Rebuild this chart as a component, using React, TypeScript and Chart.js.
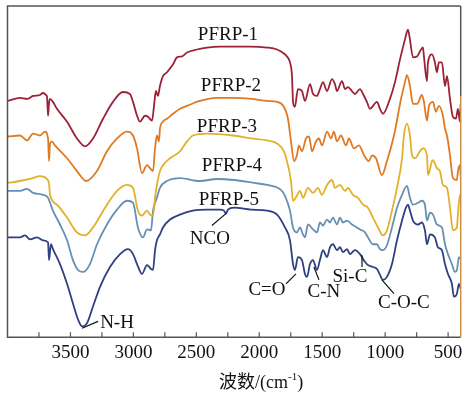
import { useEffect, useRef } from "react";
import { Chart, registerables } from "chart.js";

Chart.register(...registerables);

// FTIR spectra (wavenumber in cm-1, transmittance in arbitrary offset units)
const WN_1 = [3996,3901,3845,3797,3742,3718,3694,3686,3678,3670,3662,3639,3607,3527,3448,3384,3321,3241,3162,3083,3027,3003,2971,2948,2908,2884,2852,2836,2821,2805,2789,2765,2733,2685,2654,2614,2574,2495,2415,2312,2201,2066,1939,1859,1804,1780,1756,1740,1732,1717,1693,1661,1637,1597,1573,1542,1518,1494,1462,1422,1399,1383,1343,1319,1296,1264,1240,1200,1176,1145,1121,1065,1041,1018,962,922,882,843,819,803,779,747,724,700,692,668,660,628,605,589,573,549,525,509,485,462,438,422,406,400];
const T_1 = [239,242,241,244,245,247,245,243,224,237,241,238,231,218,201,193,201,221,238,248,246,238,224,218,224,223,219,234,249,244,254,264,268,276,283,284,288,291,293,294,294,294,293,291,287,284,278,264,238,233,251,249,239,256,246,244,251,258,249,261,256,249,259,251,253,249,246,251,246,238,231,238,231,226,241,258,281,301,311,301,283,284,289,293,284,259,278,286,278,268,278,278,254,264,241,223,221,231,218,236];

const WN_2 = [3996,3901,3845,3797,3742,3702,3678,3670,3662,3647,3623,3527,3448,3376,3289,3210,3130,3051,3003,2971,2932,2892,2868,2844,2828,2813,2797,2789,2765,2733,2685,2630,2574,2471,2336,2201,2066,1939,1859,1804,1772,1748,1724,1701,1685,1661,1629,1605,1581,1550,1526,1502,1462,1430,1407,1383,1351,1311,1288,1248,1208,1168,1129,1105,1073,1026,986,930,874,843,827,803,779,747,708,692,668,652,620,597,573,541,525,509,485,462,430,422,406,400];
const T_2 = [203,204,199,206,204,208,201,178,196,198,194,181,168,158,168,188,201,208,204,191,166,174,171,168,191,204,198,211,218,221,226,231,234,239,242,242,241,239,238,233,221,198,178,184,194,188,201,203,188,198,201,194,208,201,208,198,204,194,201,191,194,184,178,184,181,164,178,204,241,258,265,254,236,236,245,238,219,234,238,228,234,224,211,204,184,161,159,168,174,163];

const WN_3 = [3996,3901,3797,3742,3686,3670,3662,3607,3527,3448,3384,3321,3210,3130,3051,3003,2964,2932,2892,2868,2844,2828,2813,2789,2765,2709,2630,2574,2527,2415,2209,2066,1939,1859,1804,1780,1748,1732,1701,1677,1653,1613,1573,1534,1502,1462,1422,1399,1359,1319,1296,1256,1216,1176,1137,1097,1057,1018,986,946,906,866,851,827,803,787,763,724,700,668,660,628,620,589,565,541,509,485,462,430,422,406,400];
const T_3 = [156,158,161,163,160,155,144,134,121,106,103,111,134,148,154,151,128,123,128,124,123,141,154,168,174,181,188,198,204,206,204,201,199,196,188,178,158,138,143,148,141,151,146,151,144,154,159,151,154,148,151,144,141,134,131,121,111,103,108,128,151,181,204,216,204,184,181,188,191,184,164,178,179,171,168,154,151,131,108,111,124,144,140];

const WN_4 = [3996,3901,3845,3797,3718,3678,3662,3639,3583,3527,3480,3440,3400,3345,3289,3210,3130,3051,3003,2964,2924,2892,2860,2844,2813,2789,2733,2630,2471,2336,2201,2042,1939,1828,1796,1756,1732,1701,1677,1653,1637,1613,1573,1542,1518,1494,1462,1438,1415,1383,1359,1335,1303,1264,1224,1200,1160,1137,1097,1065,1041,1018,986,946,906,866,827,803,779,739,708,684,668,644,620,589,549,525,501,470,446,430,414,400];
const T_4 = [148,148,150,146,144,141,136,128,114,98,78,68,66,74,94,114,129,138,136,111,101,109,108,128,141,151,158,161,158,160,159,156,154,149,143,128,111,106,111,104,101,114,109,106,116,113,119,116,121,114,121,116,118,114,111,109,106,101,94,94,89,88,93,111,131,144,153,141,134,136,138,134,118,126,124,114,111,94,84,74,66,68,81,79];

const WN_5 = [3996,3901,3861,3821,3766,3718,3678,3670,3655,3639,3583,3527,3480,3440,3408,3369,3321,3265,3186,3106,3043,3003,2971,2932,2892,2860,2844,2828,2813,2789,2765,2709,2630,2527,2415,2312,2281,2265,2249,2201,2066,1939,1859,1796,1756,1732,1717,1693,1661,1637,1621,1597,1573,1542,1518,1494,1462,1438,1415,1383,1359,1335,1303,1280,1240,1200,1160,1137,1097,1065,1041,1018,986,946,906,866,835,819,803,779,739,708,684,668,644,605,581,549,525,501,470,454,430,414,400];
const T_5 = [101,101,103,99,101,98,96,78,94,89,74,54,34,18,11,14,31,51,71,84,89,84,74,64,73,69,68,88,98,104,111,119,124,128,129,129,128,125,129,131,129,128,124,111,98,74,68,81,78,64,61,74,78,68,78,88,81,91,94,88,91,86,89,84,88,84,76,73,71,69,63,58,61,74,98,118,131,134,128,118,114,116,108,94,104,101,91,88,74,64,54,41,44,54,49];

const SERIES_NAMES = ["PFRP-1", "PFRP-2", "PFRP-3", "PFRP-4", "PFRP-5"];
const SERIES_COLORS = ["#9d2238", "#e07a22", "#e3b02a", "#6590b3", "#2f4080"];
const SERIES_WN = [WN_1, WN_2, WN_3, WN_4, WN_5];
const SERIES_T = [T_1, T_2, T_3, T_4, T_5];

const TICK_VALUES = [3750, 3500, 3250, 3000, 2750, 2500, 2250, 2000, 1750, 1500, 1250, 1000, 750, 500];

// series name labels: [wavenumber, value]
const NAME_LABEL_POS = [
  [2249, 306],
  [2225, 254],
  [2257, 213],
  [2217, 173],
  [2241, 139],
];

// band assignments: text, text pos, leader line start, leader line end
const BAND_TEXT = ["NCO", "N-H", "C=O", "C-N", "Si-C", "C-O-C"];
const BAND_TEXT_POS = [[2392, 99], [3130, 14], [1939, 48], [1486, 46], [1280, 61], [851, 35]];
const BAND_LINE_FROM = [[2376, 113], [3281, 16], [1709, 64], [1526, 58], [1184, 71], [930, 44]];
const BAND_LINE_TO = [[2265, 125], [3408, 9], [1788, 54], [1566, 71], [1184, 83], [1026, 58]];

const SERIF = '"Liberation Serif", "Times New Roman", "Noto Sans CJK SC", serif';

const decorPlugin = {
  id: "decor",
  afterDatasetsDraw(chart: any) {
    const { ctx, chartArea } = chart;
    const xs = chart.scales.x;
    const ys = chart.scales.y;
    const { left, right, top, bottom } = chartArea;
    ctx.save();
    // frame
    ctx.lineWidth = 1.5;
    ctx.strokeStyle = "#555555";
    ctx.beginPath();
    ctx.moveTo(right, top);
    ctx.lineTo(left, top);
    ctx.lineTo(left, bottom);
    ctx.lineTo(right, bottom);
    ctx.stroke();
    const yBreak = ys.getPixelForValue(244);
    ctx.beginPath();
    ctx.moveTo(right, top);
    ctx.lineTo(right, yBreak);
    ctx.stroke();
    ctx.strokeStyle = "#c98f45";
    ctx.beginPath();
    ctx.moveTo(right, yBreak);
    ctx.lineTo(right, bottom);
    ctx.stroke();
    // inward tick marks
    ctx.strokeStyle = "#555555";
    ctx.lineWidth = 1.2;
    for (const t of xs.ticks) {
      const px = xs.getPixelForValue(t.value);
      ctx.beginPath();
      ctx.moveTo(px, bottom);
      ctx.lineTo(px, bottom - 5);
      ctx.stroke();
    }
    // series names
    ctx.fillStyle = "#111111";
    ctx.font = `19px ${SERIF}`;
    ctx.textAlign = "center";
    ctx.textBaseline = "middle";
    NAME_LABEL_POS.forEach((p, i) => {
      ctx.fillText(SERIES_NAMES[i], xs.getPixelForValue(p[0]), ys.getPixelForValue(p[1]));
    });
    // band labels + leaders
    ctx.strokeStyle = "#111111";
    ctx.lineWidth = 1.2;
    BAND_TEXT.forEach((txt, i) => {
      const tp = BAND_TEXT_POS[i];
      ctx.fillText(txt, xs.getPixelForValue(tp[0]), ys.getPixelForValue(tp[1]));
      const a = BAND_LINE_FROM[i];
      const b = BAND_LINE_TO[i];
      ctx.beginPath();
      ctx.moveTo(xs.getPixelForValue(a[0]), ys.getPixelForValue(a[1]));
      ctx.lineTo(xs.getPixelForValue(b[0]), ys.getPixelForValue(b[1]));
      ctx.stroke();
    });
    // axis title with superscript
    const main = "波数/(cm";
    const sup = "-1";
    const close = ")";
    ctx.font = `18px ${SERIF}`;
    const w1 = ctx.measureText(main).width;
    const w3 = ctx.measureText(close).width;
    ctx.font = `11px ${SERIF}`;
    const w2 = ctx.measureText(sup).width;
    const total = w1 + w2 + w3;
    const cx = (left + right) / 2 + 27;
    const cy = chart.height - 11;
    let x0 = cx - total / 2;
    ctx.textAlign = "left";
    ctx.textBaseline = "alphabetic";
    ctx.fillStyle = "#111111";
    ctx.font = `18px ${SERIF}`;
    ctx.fillText(main, x0, cy + 6);
    x0 += w1;
    ctx.font = `11px ${SERIF}`;
    ctx.fillText(sup, x0, cy - 2);
    x0 += w2;
    ctx.font = `18px ${SERIF}`;
    ctx.fillText(close, x0, cy + 6);
    ctx.restore();
  },
};

export default function App() {
  const canvasRef = useRef<HTMLCanvasElement | null>(null);

  useEffect(() => {
    if (!canvasRef.current) return;
    const datasets = SERIES_NAMES.map((name, i) => ({
      label: name,
      data: SERIES_WN[i].map((x, j) => ({ x, y: SERIES_T[i][j] })),
      borderColor: SERIES_COLORS[i],
      borderWidth: 1.8,
      pointRadius: 0,
      cubicInterpolationMode: "monotone" as const,
      fill: false,
    }));
    const chart = new Chart(canvasRef.current, {
      type: "line",
      data: { datasets },
      plugins: [decorPlugin],
      options: {
        animation: false,
        responsive: true,
        maintainAspectRatio: false,
        layout: { padding: { left: 7.5, top: 6, right: 7.3, bottom: 25 } },
        plugins: { legend: { display: false }, tooltip: { enabled: false } },
        scales: {
          x: {
            type: "linear",
            reverse: true,
            min: 400,
            max: 4000,
            afterBuildTicks: (s: any) => {
              s.ticks = TICK_VALUES.map((v) => ({ value: v }));
            },
            ticks: {
              autoSkip: false,
              maxRotation: 0,
              padding: 4,
              color: "#111111",
              font: { family: SERIF, size: 19 },
              callback: (v: any) => (Number(v) % 500 === 0 ? String(v) : ""),
            },
            grid: { display: false, drawTicks: false },
            border: { display: false },
          },
          y: { display: false, min: 0, max: 335 },
        },
      },
    });
    return () => chart.destroy();
  }, []);

  return (
    <div style={{ position: "fixed", left: 0, top: 0, width: 468, height: 393, background: "#ffffff" }}>
      <canvas ref={canvasRef} />
    </div>
  );
}
